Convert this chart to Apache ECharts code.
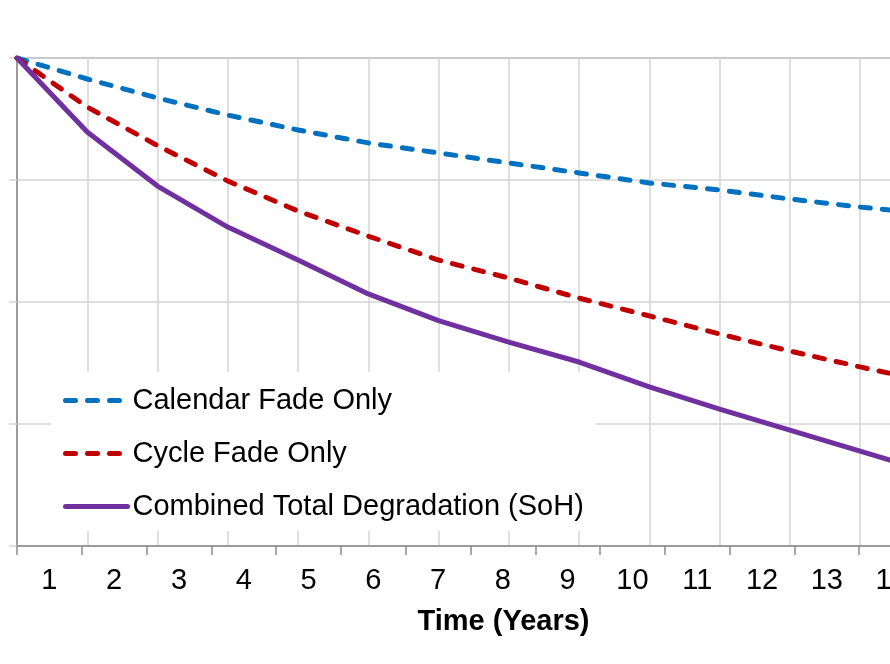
<!DOCTYPE html>
<html lang="en">
<head>
  <meta charset="UTF-8">
  <title>Battery degradation</title>
  <style>
    html, body { margin: 0; padding: 0; background: #ffffff; }
  </style>
</head>
<body>
<div id="main" style="width:890px; height:664px;"></div>

<script src="https://fastly.jsdelivr.net/npm/echarts@6.0.0/dist/echarts.min.js"></script>

<script>
  // years since start (one point per year)
  var years = [0, 1, 2, 3, 4, 5, 6, 7, 8, 9, 10, 11, 12, 13];
  // bottom axis labels
  var yearLabels = ['1', '2', '3', '4', '5', '6', '7', '8', '9', '10', '11', '12', '13', '14'];

  // capacity, % of initial
  var calendarFade = [100, 99.14, 98.36, 97.66, 97.05, 96.52, 96.11, 95.70, 95.29, 94.88, 94.59, 94.22, 93.89, 93.61];
  var cycleFade    = [100, 97.99, 96.41, 94.96, 93.73, 92.70, 91.72, 90.98, 90.16, 89.43, 88.69, 87.99, 87.34, 86.72];
  var combinedSoH  = [100, 96.97, 94.75, 93.07, 91.72, 90.33, 89.24, 88.36, 87.54, 86.52, 85.61, 84.75, 83.89, 83.03];

  function pairs(values) {
    return years.map(function (y, i) { return [y, values[i]]; });
  }

  var font = "'Liberation Sans', Arial, sans-serif";
  var chart = echarts.init(document.getElementById('main'));

  var option = {
    backgroundColor: '#ffffff',
    animation: false,
    grid: {
      left: 17,
      top: 58,
      width: 907,
      height: 488,
      show: true,
      borderColor: '#8c8c8c',
      borderWidth: 1.5,
      containLabel: false,
      outerBoundsMode: 'none'
    },
    legend: {
      orient: 'vertical',
      left: 51,
      top: 372,
      padding: [14, 12, 10, 12],
      backgroundColor: '#ffffff',
      itemWidth: 62,
      itemHeight: 14,
      itemGap: 24,
      itemStyle: { opacity: 0 },   // hide the marker dot, keep the line
      lineStyle: { width: 5, cap: 'round', opacity: 1 },
      textStyle: { fontFamily: font, fontSize: 29, color: '#000' },
      data: ['Calendar Fade Only', 'Cycle Fade Only', 'Combined Total Degradation (SoH)']
    },
    xAxis: [
      {
        type: 'value',
        min: 0,
        max: 12.91,
        interval: 1,
        axisLine: { show: false },
        axisTick: { show: false },
        axisLabel: { show: false },
        splitLine: { show: true, lineStyle: { color: '#d4d4d4', width: 1.5 } }
      },
      {
        type: 'category',
        position: 'bottom',
        data: yearLabels,
        boundaryGap: true,
        axisLine: { show: true, lineStyle: { color: '#8c8c8c', width: 1.5 } },
        axisTick: { show: true, length: 9, lineStyle: { color: '#8c8c8c', width: 1.5 } },
        axisLabel: { margin: 20, fontFamily: font, fontSize: 29, color: '#000', interval: 0 },
        splitLine: { show: false },
        name: 'Time (Years)',
        nameLocation: 'middle',
        nameGap: 61,
        nameTextStyle: { fontFamily: font, fontSize: 29, fontWeight: 'bold', color: '#000', padding: [0, 0, 0, 66] }
      }
    ],
    yAxis: {
      type: 'value',
      min: 80,
      max: 100,
      interval: 5,
      axisLine: { show: true, lineStyle: { color: '#8c8c8c', width: 1.5 } },
      axisTick: { show: true, length: 8, lineStyle: { color: '#d4d4d4', width: 1.5 } },
      axisLabel: { show: false },
      splitLine: { show: true, lineStyle: { color: '#d4d4d4', width: 1.5 } }
    },
    series: [
      {
        name: 'Calendar Fade Only',
        type: 'line',
        xAxisIndex: 0,
        symbol: 'none',
        data: pairs(calendarFade),
        itemStyle: { color: '#0070C0' },
        lineStyle: { color: '#0070C0', width: 5, type: [10, 12], cap: 'round' }
      },
      {
        name: 'Cycle Fade Only',
        type: 'line',
        xAxisIndex: 0,
        symbol: 'none',
        data: pairs(cycleFade),
        itemStyle: { color: '#C00000' },
        lineStyle: { color: '#C00000', width: 5, type: [10, 12], cap: 'round' }
      },
      {
        name: 'Combined Total Degradation (SoH)',
        type: 'line',
        xAxisIndex: 0,
        symbol: 'none',
        data: pairs(combinedSoH),
        itemStyle: { color: '#7030A0' },
        lineStyle: { color: '#7030A0', width: 5, cap: 'round', join: 'round' }
      }
    ]
  };

  chart.setOption(option);
</script>
</body>
</html>
